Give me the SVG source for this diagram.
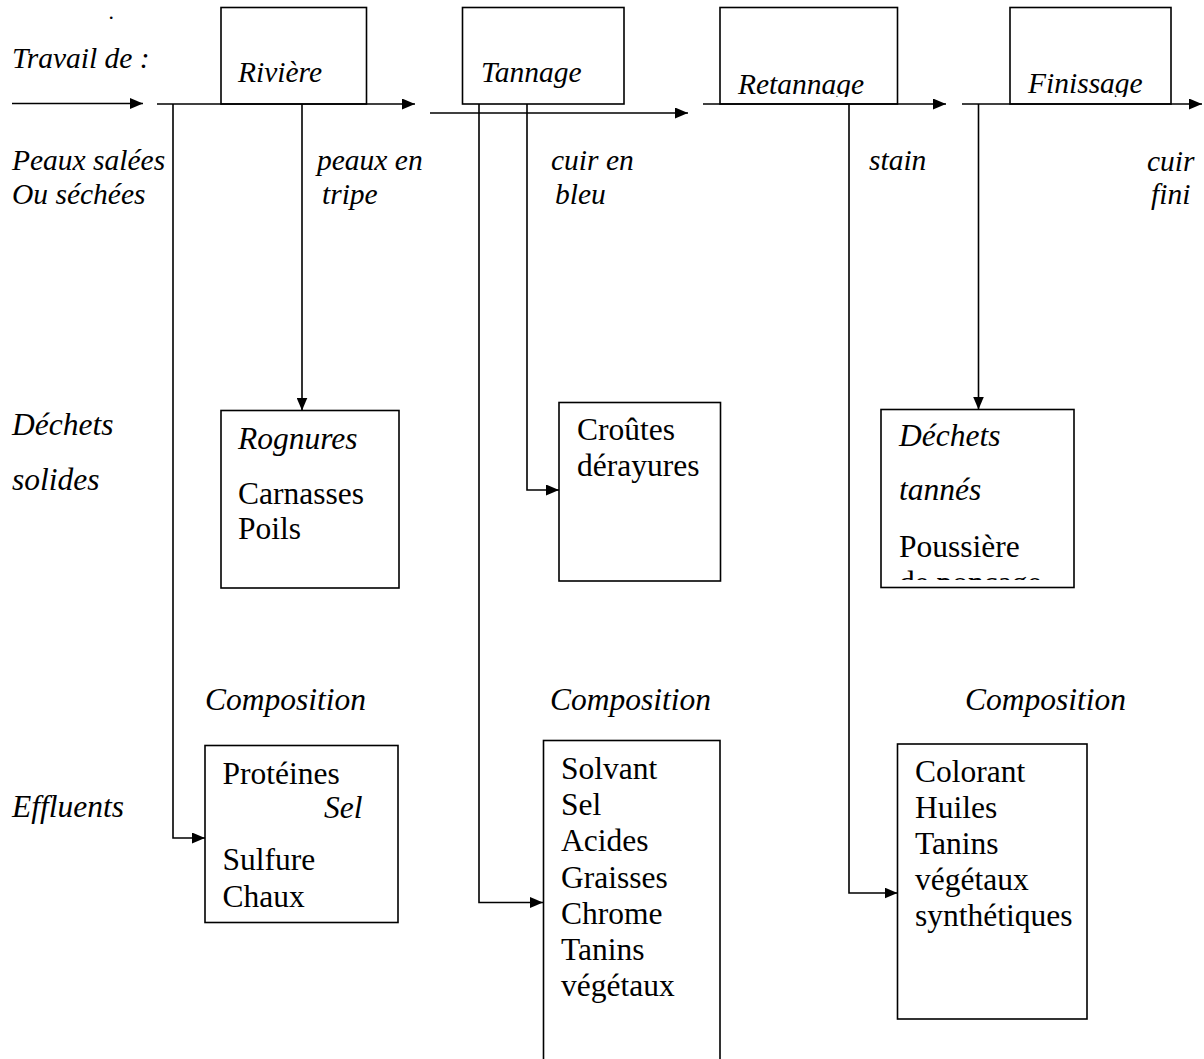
<svg xmlns="http://www.w3.org/2000/svg" width="1204" height="1059" viewBox="0 0 1204 1059">
<style>
text{font-family:"Liberation Serif","Times New Roman",serif;fill:#000}
.i{font-style:italic;font-size:29.5px}
.il{font-style:italic;font-size:31.5px}
.r{font-size:31.5px}
.dot{font-style:italic;font-size:22px}
.box{fill:#fff;stroke:#000;stroke-width:1.6}
.ln{fill:none;stroke:#000;stroke-width:1.6}
</style>
<defs>
<marker id="ah" viewBox="0 0 13 11" refX="13" refY="5.5" markerWidth="13" markerHeight="11" markerUnits="userSpaceOnUse" orient="auto">
<path d="M0,0 L13,5.5 L0,11 z" fill="#000"/>
</marker>
<clipPath id="clipTop"><rect x="700" y="0" width="504" height="97"/></clipPath>
<clipPath id="clipDech"><rect x="882" y="410" width="191" height="170"/></clipPath>
</defs>

<g id="labels">
<text class="dot" x="109" y="19">.</text>
<text class="i" x="12" y="68">Travail de :</text>
<text class="i" x="12" y="170">Peaux salées</text>
<text class="i" x="12" y="204">Ou séchées</text>
<text class="i" x="317" y="170">peaux en</text>
<text class="i" x="322" y="204">tripe</text>
<text class="i" x="551" y="170">cuir en</text>
<text class="i" x="555" y="204">bleu</text>
<text class="i" x="869" y="170">stain</text>
<text class="i" x="1147" y="171">cuir</text>
<text class="i" x="1151" y="204">fini</text>
<text class="il" x="12" y="435">Déchets</text>
<text class="il" x="12" y="490">solides</text>
<text class="il" x="12" y="817">Effluents</text>
<text class="il" x="205" y="710">Composition</text>
<text class="il" x="550" y="710">Composition</text>
<text class="il" x="965" y="710">Composition</text>
</g>

<g id="node-riviere">
<rect class="box" x="221" y="7.5" width="145.5" height="96.5"/>
<text class="i" x="238" y="82">Rivière</text>
</g>
<g id="node-tannage">
<rect class="box" x="462.5" y="7.5" width="161.5" height="96.5"/>
<text class="i" x="481" y="82">Tannage</text>
</g>
<g id="node-retannage">
<rect class="box" x="720" y="7.5" width="177.5" height="96.5"/>
<text class="i" x="738" y="93.5" clip-path="url(#clipTop)">Retannage</text>
</g>
<g id="node-finissage">
<rect class="box" x="1010" y="7.5" width="161" height="96.5"/>
<text class="i" x="1028" y="93" clip-path="url(#clipTop)">Finissage</text>
</g>

<g id="connectors">
<line class="ln" x1="12" y1="103.5" x2="143" y2="103.5" marker-end="url(#ah)"/>
<line class="ln" x1="157" y1="104" x2="415" y2="104" marker-end="url(#ah)"/>
<line class="ln" x1="430" y1="113" x2="688" y2="113" marker-end="url(#ah)"/>
<line class="ln" x1="703" y1="104" x2="946" y2="104" marker-end="url(#ah)"/>
<line class="ln" x1="962" y1="104" x2="1202" y2="104" marker-end="url(#ah)"/>
<polyline class="ln" points="173,104 173,838 205,838" marker-end="url(#ah)"/>
<line class="ln" x1="302" y1="104" x2="302" y2="410.5" marker-end="url(#ah)"/>
<polyline class="ln" points="479,104 479,902.5 543,902.5" marker-end="url(#ah)"/>
<polyline class="ln" points="527,104 527,490 559,490" marker-end="url(#ah)"/>
<polyline class="ln" points="849,104 849,893 897.5,893" marker-end="url(#ah)"/>
<line class="ln" x1="978.5" y1="104" x2="978.5" y2="409.5" marker-end="url(#ah)"/>
</g>

<g id="node-rognures">
<rect class="box" x="221" y="410.5" width="178" height="177.5"/>
<text class="il" x="238" y="449">Rognures</text>
<text class="r" x="238" y="504">Carnasses</text>
<text class="r" x="238" y="539">Poils</text>
</g>
<g id="node-croutes">
<rect class="box" x="559" y="402.5" width="161.5" height="178.5"/>
<text class="r" x="577" y="440">Croûtes</text>
<text class="r" x="577" y="476">dérayures</text>
</g>
<g id="node-dechets-tannes">
<rect class="box" x="881" y="409.5" width="193" height="178"/>
<text class="il" x="899" y="446">Déchets</text>
<text class="il" x="899" y="500">tannés</text>
<text class="r" x="899" y="556.5">Poussière</text>
<text class="r" x="899" y="593" clip-path="url(#clipDech)">de ponçage</text>
</g>

<g id="node-proteines">
<rect class="box" x="205" y="745.5" width="193" height="177"/>
<text class="r" x="222.5" y="784">Protéines</text>
<text class="il" x="324" y="818">Sel</text>
<text class="r" x="222.5" y="870">Sulfure</text>
<text class="r" x="222.5" y="906.5">Chaux</text>
</g>
<g id="node-solvant">
<rect class="box" x="543.5" y="740.5" width="176.5" height="340"/>
<text class="r" x="561" y="779">Solvant</text>
<text class="r" x="561" y="815">Sel</text>
<text class="r" x="561" y="851">Acides</text>
<text class="r" x="561" y="887.5">Graisses</text>
<text class="r" x="561" y="924">Chrome</text>
<text class="r" x="561" y="960">Tanins</text>
<text class="r" x="561" y="996">végétaux</text>
</g>
<g id="node-colorant">
<rect class="box" x="897.5" y="744" width="189.5" height="275"/>
<text class="r" x="915" y="782">Colorant</text>
<text class="r" x="915" y="818">Huiles</text>
<text class="r" x="915" y="854">Tanins</text>
<text class="r" x="915" y="890">végétaux</text>
<text class="r" x="915" y="926">synthétiques</text>
</g>
</svg>
